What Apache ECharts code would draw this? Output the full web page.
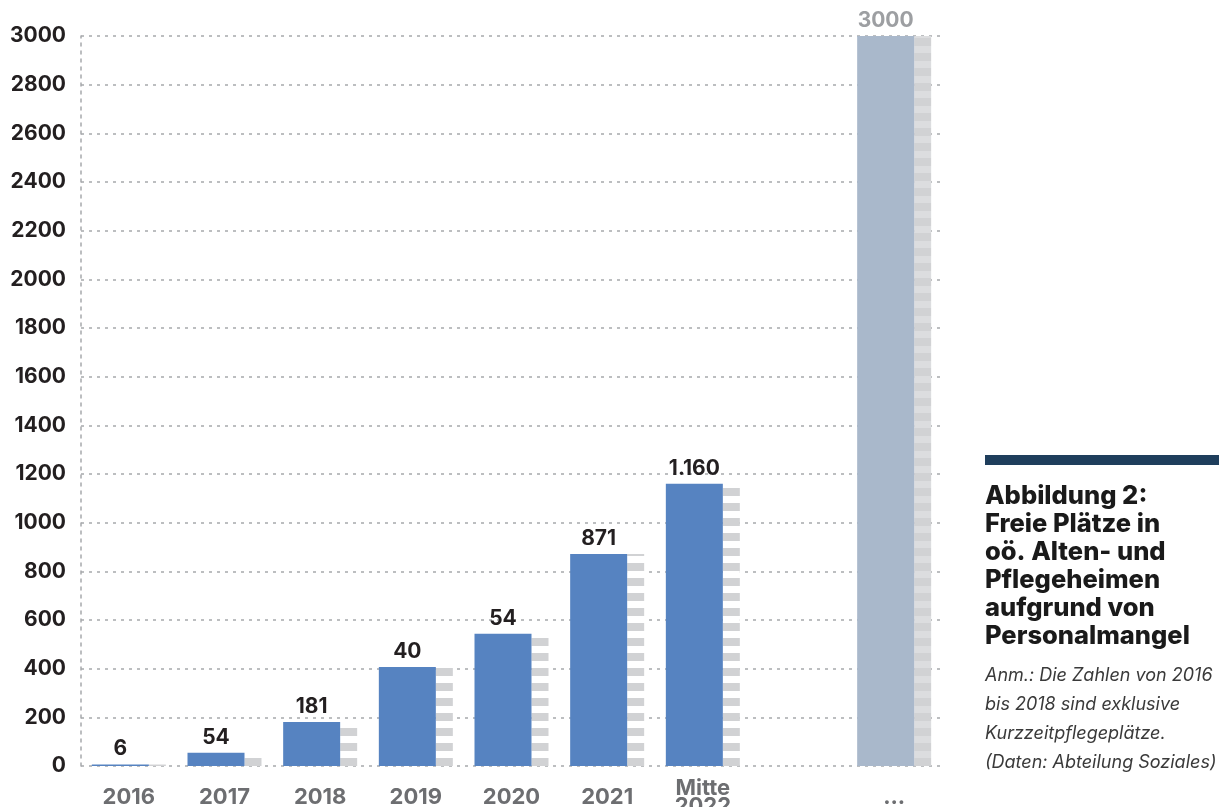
<!DOCTYPE html>
<html>
<head>
<meta charset="utf-8">
<script src="https://cdn.jsdelivr.net/npm/echarts@6/dist/echarts.min.js"></script>
<style>
  html, body { margin: 0; padding: 0; background: #ffffff; }
  #chart { width: 1219px; height: 807px; }
</style>
</head>
<body>
<div id="chart"></div>
<script>
const categories = ["2016", "2017", "2018", "2019", "2020", "2021", "Mitte\n2022", "", "..."];
// bar heights as drawn (the printed labels for 2019/2020 differ from the bars)
const values = [6, 54, 181, 407, 543, 871, 1160, null, 3000];
const valueLabels = ["6", "54", "181", "40", "54", "871", "1.160", "", "3000"];
const yTicks = { min: 0, max: 3000, interval: 200 };

const titleLines = ["Abbildung 2:", "Freie Plätze in", "oö. Alten- und", "Pflegeheimen", "aufgrund von", "Personalmangel"];
const noteLines = ["Anm.: Die Zahlen von 2016", "bis 2018 sind exklusive", "Kurzzeitpflegeplätze.", "(Daten: Abteilung Soziales)"];

const INK = "#231f20";
const AXIS_GREY = "#6d6e71";
const BLUE = "#5683c1";
const PALE = "#a9b8cb";
const STRIPE = "#d1d2d4";
const FONT = "Inter, sans-serif";

// striped "shadow" fill, 15px period anchored so a stripe sits on the baseline
function stripes(bg) {
  const c = document.createElement("canvas");
  c.width = 4;
  c.height = 15;
  const ctx = c.getContext("2d");
  ctx.fillStyle = bg;
  ctx.fillRect(0, 0, 4, 15);
  ctx.fillStyle = STRIPE;
  ctx.fillRect(0, 8, 4, 7);
  ctx.fillRect(0, 0, 4, 1);
  return { image: c, repeat: "repeat" };
}

const lastIdx = categories.length - 1;

const chart = echarts.init(document.getElementById("chart"), null, { renderer: "canvas" });
chart.setOption({
  animation: false,
  textStyle: { fontFamily: FONT },
  grid: { left: 81, right: 277, top: 36, bottom: 41, outerBoundsMode: "none", containLabel: false },
  xAxis: {
    type: "category",
    data: categories,
    axisLine: { show: false },
    axisTick: { show: false },
    axisLabel: {
      interval: 0,
      color: AXIS_GREY,
      fontFamily: FONT,
      fontWeight: "bold",
      fontSize: 22,
      lineHeight: 18,
      margin: 31,
      verticalAlign: "middle",
    },
  },
  yAxis: {
    type: "value",
    min: yTicks.min,
    max: yTicks.max,
    interval: yTicks.interval,
    axisLine: { show: true, lineStyle: { color: "#a7a9ac", width: 1.5, type: [3, 5] } },
    axisTick: { show: false },
    splitLine: { lineStyle: { color: "#a7a9ac", width: 1.5, type: [3, 5] } },
    axisLabel: {
      color: INK,
      fontFamily: FONT,
      fontWeight: "bold",
      fontSize: 21,
      margin: 15,
      formatter: (v) => String(v),
    },
  },
  series: [
    {
      type: "bar",
      barWidth: 57,
      barGap: "0%",
      data: values.map((v, i) => ({
        value: v,
        itemStyle: { color: i === lastIdx ? PALE : BLUE },
        label: { color: i === lastIdx ? "#9d9fa2" : INK },
      })),
      label: {
        show: true,
        position: "top",
        distance: 5,
        fontFamily: FONT,
        fontWeight: "bold",
        fontSize: 21,
        formatter: (p) => valueLabels[p.dataIndex],
      },
      z: 3,
    },
    {
      type: "bar",
      barWidth: 17,
      data: values.map((v, i) => ({
        value: v,
        itemStyle: { color: stripes(i === lastIdx ? "#dcdddf" : "#ffffff") },
      })),
      z: 2,
    },
  ],
  graphic: [
    { type: "rect", left: 985, top: 455, shape: { width: 234, height: 10 }, style: { fill: "#1f3e5c" } },
    {
      type: "text",
      left: 985,
      top: 482,
      style: {
        text: titleLines.join("\n"),
        font: "800 25.5px " + FONT,
        lineHeight: 28,
        fill: "#1a1a1a",
      },
    },
    {
      type: "text",
      left: 985,
      top: 661,
      style: {
        text: noteLines.join("\n"),
        font: "italic 18px " + FONT,
        lineHeight: 29,
        fill: "#3a3a3a",
      },
    },
  ],
});
</script>
</body>
</html>
